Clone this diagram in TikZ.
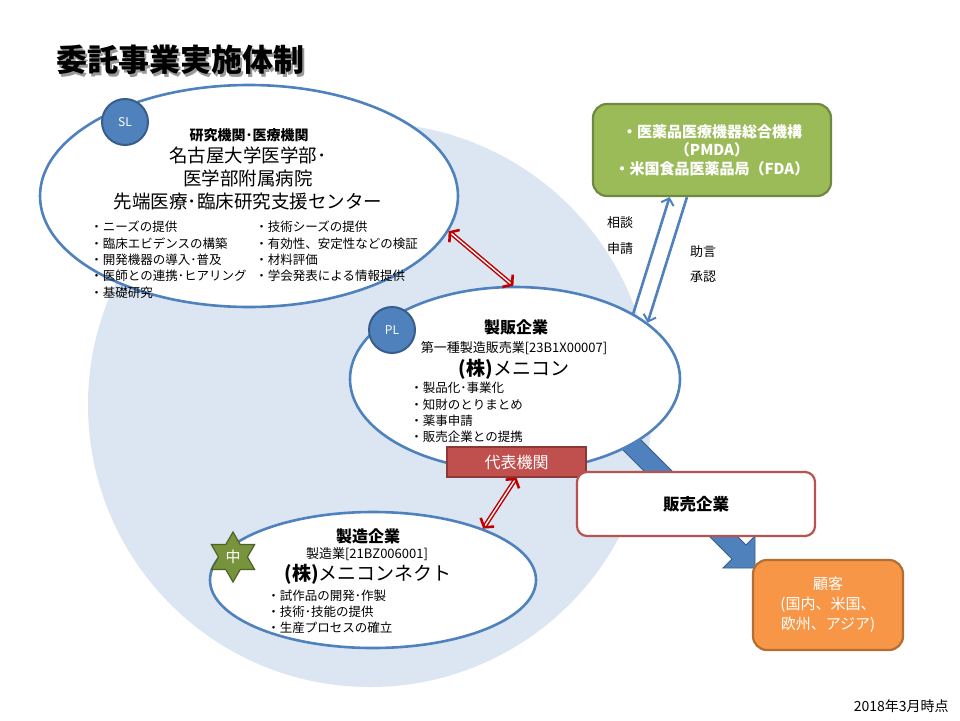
\documentclass[tikz,border=0pt]{standalone}
\usepackage{fontspec}
\setmainfont{Noto Sans CJK JP}
\usetikzlibrary{shapes.geometric,arrows.meta,positioning}

\definecolor{circbg}{HTML}{DCE6F2}
\definecolor{ellblue}{HTML}{4F81BD}
\definecolor{darkblue}{HTML}{385D8A}
\definecolor{arrred}{HTML}{C00000}
\definecolor{repred}{HTML}{C0504D}
\definecolor{repdark}{HTML}{8C3836}
\definecolor{salesred}{HTML}{B85450}
\definecolor{grnfill}{HTML}{9BBB59}
\definecolor{grndark}{HTML}{71893F}
\definecolor{stargrn}{HTML}{77933C}
\definecolor{stardark}{HTML}{4F6228}
\definecolor{orgfill}{HTML}{F79646}
\definecolor{orgdark}{HTML}{B66D31}

\newcommand{\fsz}[2]{\fontsize{#1}{#2}\selectfont}

\begin{document}
\begin{tikzpicture}[x=1pt,y=-1pt,thick,
    every node/.style={inner sep=0pt},
    >={Straight Barb[length=6pt,width=13pt,line width=2pt]},
    org/.style={ellipse,draw=ellblue,line width=2.6pt,fill=white},
    badge/.style={circle,draw=darkblue,line width=2pt,fill=ellblue,minimum size=46,
      text=white,font=\fsz{12}{14}},
    items/.style={anchor=north west,align=left,font=\fsz{12.5}{16.3}},
    small/.style={font=\fsz{13}{15}},
    redarr/.style={{Straight Barb[length=6pt,width=16pt,line width=2.6pt]}-{Straight Barb[length=6pt,width=16pt,line width=2.6pt]},
      draw=arrred,line width=1.5pt,double=white,double distance=1.4pt},
    bluearr/.style={->,draw=ellblue,line width=2.6pt}]
  \fill[white] (0,0) rectangle (960,720);
  \fill[circbg] (370,405) circle [radius=282pt];
  % thick arrow towards the customers
  \draw[draw=darkblue,fill=ellblue,line width=0.8pt] (617,416) -- (746,545) -- (755,536)
    -- (755,568) -- (723,568) -- (732,559) -- (603,430) -- cycle;

  \node (RES) [org,minimum width=418,minimum height=222] at (249,196) {};
  \node (MAK) [org,minimum width=330,minimum height=184] at (515,379) {};
  \node (MFR) [org,minimum width=326,minimum height=136] at (373,580) {};

  \node (REP) [draw=repdark,fill=repred,line width=1.2pt,minimum width=139,minimum height=30,
    text=white,font=\fsz{16}{18}] at (516.5,462) {代表機関};
  \node (SALES) [draw=salesred,fill=white,rounded corners=10,line width=2.2pt,minimum width=238,
    minimum height=64,font=\bfseries\fsz{16.5}{18}] at (696,504) {販売企業};
  \node (CUST) [draw=orgdark,fill=orgfill,rounded corners=14,line width=2.2pt,minimum width=150,
    minimum height=90,text=white,align=center,font=\fsz{15}{20}] at (828,605)
    {顧客\\(国内、米国、\\欧州、アジア)};
  \node (PMDA) [draw=grndark,fill=grnfill,rounded corners=14,line width=2.2pt,minimum width=238,
    minimum height=92,text=white,align=center,font=\bfseries\fsz{15}{18.5}] at (712,150)
    {・医薬品医療機器総合機構\\（PMDA）\\・米国食品医薬品局（FDA）};

  % title and date
  \node (TTLs) [font=\bfseries\fsz{31}{33},text=black!40] at (182.5,62.5) {委託事業実施体制};
  \node (TTL) [font=\bfseries\fsz{31}{33}] at (180,60) {委託事業実施体制};
  \node (DATE) [anchor=east,font=\fsz{14}{16}] at (949,706) {2018年3月時点};

  % research institution
  \node (RESh) [font=\bfseries\fsz{14}{16}] at (249,135) {研究機関･医療機関};
  \node (RESn) [align=center,font=\fsz{18.5}{23}] at (248,178)
    {名古屋大学医学部･\\医学部附属病院\\先端医療･臨床研究支援センター};
  \node (RESl) [items] at (90,220.8)
    {・ニーズの提供\\・臨床エビデンスの構築\\・開発機器の導入･普及\\・医師との連携･ヒアリング\\・基礎研究};
  \node (RESr) [items] at (255,220.8)
    {・技術シーズの提供\\・有効性、安定性などの検証\\・材料評価\\・学会発表による情報提供};

  % marketing company
  \node (MAKh) [font=\bfseries\fsz{16}{18}] at (516,327) {製販企業};
  \node (MAKr) [small] at (514,348) {第一種製造販売業[23B1X00007]};
  \node (MAKn) [font=\fsz{19}{21}] at (514,369) {\textbf{(株)}メニコン};
  \node (MAKl) [items] at (410,381.8)
    {・製品化･事業化\\・知財のとりまとめ\\・薬事申請\\・販売企業との提携};

  % manufacturer
  \node (MFRh) [font=\bfseries\fsz{16}{18}] at (368,536) {製造企業};
  \node (MFRr) [small] at (367,554) {製造業[21BZ006001]};
  \node (MFRn) [font=\fsz{19}{21}] at (368,574) {\textbf{(株)}メニコンネクト};
  \node (MFRl) [items,font=\fsz{12.5}{15.7}] at (267,589.8)
    {・試作品の開発･作製\\・技術･技能の提供\\・生産プロセスの確立};

  \node (SL) [badge] at (125,122) {SL};
  \node (PL) [badge] at (392,330) {PL};
  \node (NAKA) [star,star points=6,star point ratio=1.73,minimum size=50,fill=stargrn,
    draw=stardark,line width=1.2pt,text=white,font=\fsz{15}{17}] at (233,557) {中};

  \node (SOD) [small] at (620,223) {相談};
  \node (SHI) [small] at (620,249) {申請};
  \node (JOG) [small] at (703,252) {助言};
  \node (SHO) [small] at (703,277) {承認};

  \draw[redarr] (RES.-10.5) -- (MAK.91);
  \draw[redarr] (REP.south) -- (MFR.25);
  \draw[bluearr] (MAK.29.4) -- (PMDA.-132);
  \draw[bluearr] (PMDA.-118.5) -- (MAK.23.6);
\end{tikzpicture}
\end{document}
